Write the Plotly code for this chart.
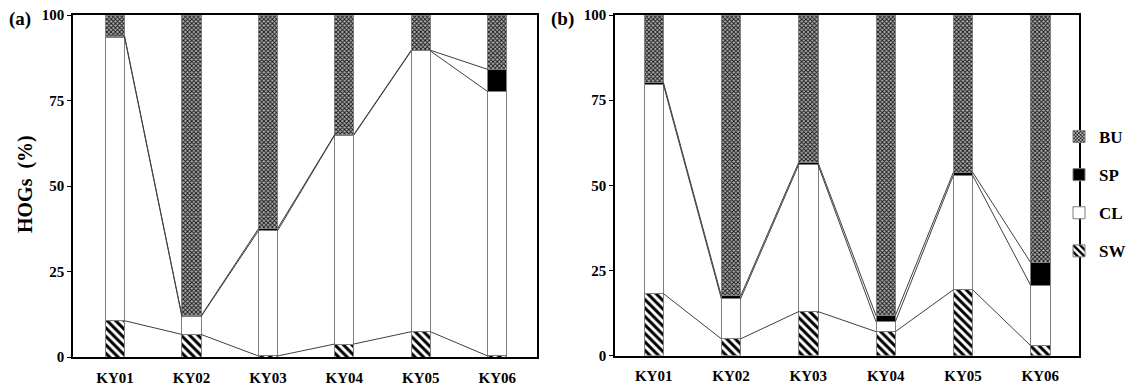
import plotly.graph_objects as go

categories = ["KY01", "KY02", "KY03", "KY04", "KY05", "KY06"]
series_names = ["SW", "CL", "SP", "BU"]

# Panel (a) percentages
a_SW = [10.6, 6.6, 0.3, 3.8, 7.4, 0.3]
a_CL = [82.9, 5.2, 36.6, 61.1, 82.1, 77.3]
a_SP = [0.3, 0.2, 0.6, 0.2, 0.2, 6.5]
a_BU = [6.2, 88.0, 62.5, 34.9, 10.3, 15.9]

# Panel (b) percentages
b_SW = [18.2, 4.9, 12.9, 7.0, 19.3, 2.9]
b_CL = [61.4, 11.8, 43.1, 2.9, 33.6, 17.7]
b_SP = [0.7, 0.8, 0.7, 1.8, 0.9, 6.7]
b_BU = [19.7, 82.5, 43.3, 88.3, 46.2, 72.7]

yticks = [0, 25, 50, 75, 100]

SERIF = "Liberation Serif"
BAR_W = 0.25

styles = {
    "SW": dict(color="white", pattern=dict(shape="\\", size=6, solidity=0.5, fgcolor="black", bgcolor="white")),
    "CL": dict(color="white"),
    "SP": dict(color="black"),
    "BU": dict(color="white", pattern=dict(shape="x", size=3, solidity=0.5, fgcolor="#111111", bgcolor="#b0b0b0")),
}
legend_rank = {"BU": 1, "SP": 2, "CL": 3, "SW": 4}

fig = go.Figure()
xs = list(range(len(categories)))


def add_panel(data, xa, ya, showlegend):
    for name, vals in zip(series_names, data):
        st = styles[name]
        fig.add_trace(go.Bar(
            x=xs, y=vals, width=BAR_W, name=name, xaxis=xa, yaxis=ya,
            marker=dict(color=st["color"], pattern=st.get("pattern"),
                        line=dict(color="#7f7f7f", width=1)),
            showlegend=showlegend, legendgroup=name, legendrank=legend_rank[name],
        ))
    # series lines connecting cumulative tops between adjacent bars
    cum = [0.0] * len(categories)
    for vals in data[:-1]:
        cum = [c + v for c, v in zip(cum, vals)]
        lx, ly = [], []
        for i in range(len(categories) - 1):
            lx += [xs[i] + BAR_W / 2, xs[i + 1] - BAR_W / 2, None]
            ly += [cum[i], cum[i + 1], None]
        fig.add_trace(go.Scatter(x=lx, y=ly, mode="lines", xaxis=xa, yaxis=ya,
                                 line=dict(color="#404040", width=1),
                                 showlegend=False, hoverinfo="skip"))


add_panel([a_SW, a_CL, a_SP, a_BU], "x", "y", False)
add_panel([b_SW, b_CL, b_SP, b_BU], "x2", "y2", True)

# page offset (browser body margin) so the figure fits the 1137x386 window
OFF = 8
W, H = 1137 - OFF, 386 - OFF


def px(x):
    return (x - OFF) / W


def py(y):
    return 1 - (y - OFF) / H


axfont = dict(family=SERIF, size=15, color="black", weight="bold")

xcommon = dict(tickmode="array", tickvals=xs, ticktext=categories, showgrid=False, zeroline=False,
               showline=True, linecolor="black", linewidth=1.5, mirror=True, ticks="",
               tickfont=axfont, automargin=False, ticklabelstandoff=6, ticklabeloverflow="allow")
ycommon = dict(range=[0, 100], tickmode="array", tickvals=yticks, showgrid=False, zeroline=False,
               showline=True, linecolor="black", linewidth=1.5, mirror=True, ticks="outside",
               ticklen=4, tickcolor="black", tickfont=axfont, automargin=False,
               ticklabeloverflow="allow")

fig.update_layout(
    template="none",
    width=W, height=H,
    barmode="stack",
    plot_bgcolor="white", paper_bgcolor="white",
    margin=dict(l=0, r=0, t=0, b=0, pad=0),
    xaxis=dict(domain=[px(73), px(537)], range=[-0.55, 5.52], anchor="y", **xcommon),
    yaxis=dict(domain=[py(357), py(15)], anchor="x", **ycommon),
    xaxis2=dict(domain=[px(615), px(1079)], range=[-0.5, 5.5], anchor="y2", **xcommon),
    yaxis2=dict(domain=[py(355.5), py(15)], anchor="x2", **ycommon),
    legend=dict(x=px(1059), y=py(119), xanchor="left", yanchor="top",
                traceorder="grouped", tracegroupgap=13,
                font=dict(family=SERIF, size=17, color="black", weight="bold"),
                bgcolor="rgba(0,0,0,0)", itemwidth=30),
    showlegend=True,
    annotations=[
        dict(text="HOGs  (%)", x=px(25), y=py(184), xref="paper", yref="paper",
             xanchor="center", yanchor="middle",
             textangle=-90, showarrow=False,
             font=dict(family=SERIF, size=20, color="black", weight="bold")),
        dict(text="(a)", x=px(20), y=py(19), xref="paper", yref="paper", showarrow=False,
             xanchor="center", yanchor="middle",
             font=dict(family=SERIF, size=19, color="black", weight="bold")),
        dict(text="(b)", x=px(562), y=py(19), xref="paper", yref="paper", showarrow=False,
             xanchor="center", yanchor="middle",
             font=dict(family=SERIF, size=19, color="black", weight="bold")),
    ],
)

fig.write_html("out.html")
